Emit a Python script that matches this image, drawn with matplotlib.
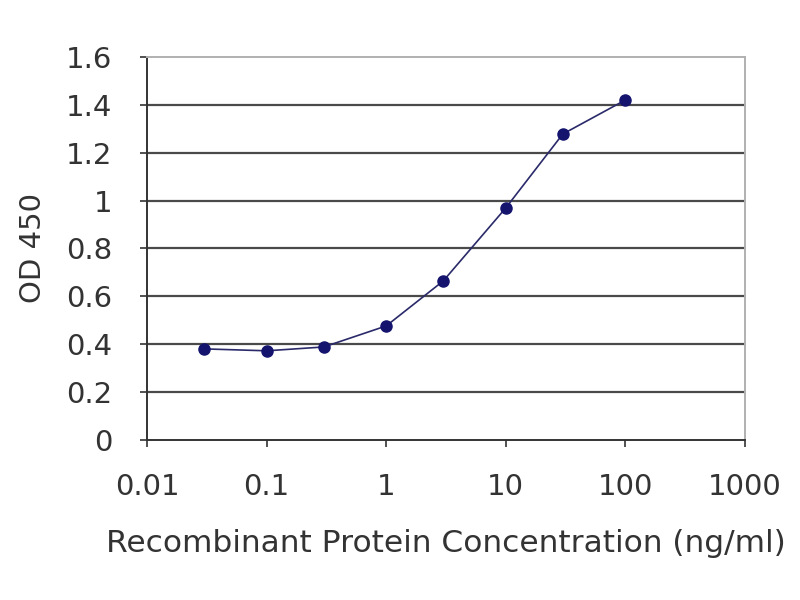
import numpy as np
import matplotlib
matplotlib.use("Agg")
import matplotlib.pyplot as plt
from matplotlib.ticker import FixedLocator, FixedFormatter, NullLocator

plt.rcParams["font.family"] = ["DejaVu Sans"]

# data
conc = [0.03, 0.1, 0.3, 1, 3, 10, 30, 100]
od450 = [0.38, 0.372, 0.388, 0.476, 0.664, 0.969, 1.278, 1.42]

x_ticks = [0.01, 0.1, 1, 10, 100, 1000]
x_labels = ["0.01", "0.1", "1", "10", "100", "1000"]
y_ticks = [0, 0.2, 0.4, 0.6, 0.8, 1.0, 1.2, 1.4, 1.6]
y_labels = ["0", "0.2", "0.4", "0.6", "0.8", "1", "1.2", "1.4", "1.6"]

text_color = "#333333"
fs = 21

fig = plt.figure(figsize=(8, 6), dpi=100)
ax = fig.add_axes([0.184, 0.267, 0.747, 0.638])

ax.set_xscale("log")
ax.set_xlim(0.01, 1000)
ax.set_ylim(0, 1.6)

# horizontal grid lines (Excel style)
for y in y_ticks[1:-1]:
    ax.axhline(y, color="#4a4a4a", lw=1.6, zorder=1)

ax.plot(conc, od450, color="#2a2a6a", lw=1.2, zorder=2)
ax.plot(conc, od450, ls="none", marker="o", ms=8, color="#14146e", zorder=3)

ax.xaxis.set_major_locator(FixedLocator(x_ticks))
ax.xaxis.set_major_formatter(FixedFormatter(x_labels))
ax.xaxis.set_minor_locator(NullLocator())
ax.yaxis.set_major_locator(FixedLocator(y_ticks))
ax.yaxis.set_major_formatter(FixedFormatter(y_labels))

ax.tick_params(axis="both", labelsize=fs, colors=text_color, length=5, width=1.2)
ax.tick_params(axis="x", pad=19)
ax.tick_params(axis="y", pad=20)

for side in ("left", "bottom"):
    ax.spines[side].set_color("#333333")
    ax.spines[side].set_linewidth(1.4)
for side in ("top", "right"):
    ax.spines[side].set_color("#b0b0b0")
    ax.spines[side].set_linewidth(1.4)

ax.set_xlabel("Recombinant Protein Concentration (ng/ml)", fontsize=22.5,
              color=text_color, labelpad=20)
ax.set_ylabel("OD 450", fontsize=fs, color=text_color, labelpad=14)

fig.savefig("out.png", dpi=100)
